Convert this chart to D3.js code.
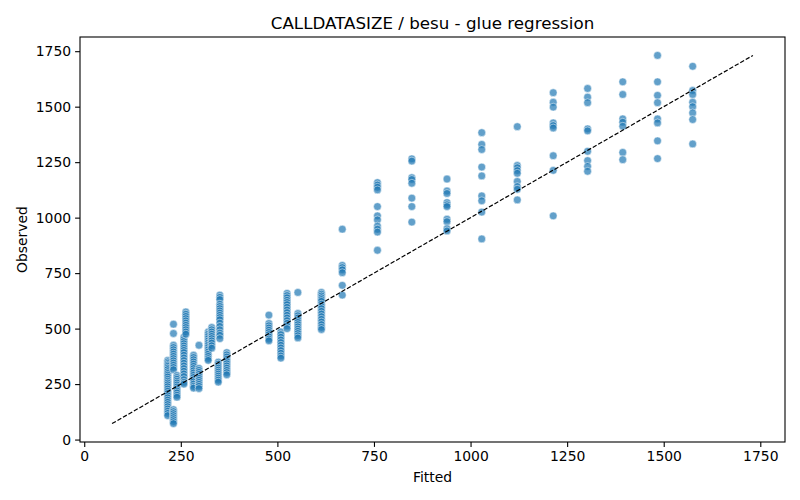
<!DOCTYPE html>
<html>
<head>
<meta charset="utf-8">
<script src="https://cdn.jsdelivr.net/npm/d3@7"></script>
<style>
  body { margin: 0; background: #fff; }
  text { font-family: "DejaVu Sans", sans-serif; }
</style>
</head>
<body>
<div id="chart"></div>
<script>
var fittedLevels = [216, 231, 240, 258, 263, 283, 297, 321, 330, 347, 351, 369,
  478, 509, 525, 553, 614, 668, 759, 848, 939, 1029, 1121, 1214, 1303, 1394, 1484, 1575];

var observedByLevel = [
  [357, 350, 343, 336, 330, 322, 315, 306, 298, 290, 282, 272, 263, 255, 247, 238, 228, 218, 208, 198, 188, 178, 168, 158, 148, 138, 128, 118, 108],
  [520, 478, 425, 415, 405, 395, 385, 375, 365, 355, 345, 335, 325, 315, 135, 126, 117, 108, 99, 90, 81, 72],
  [289, 280, 272, 263, 255, 246, 237, 228, 219, 210, 200, 191],
  [462, 452, 442, 432, 422, 412, 402, 392, 380, 368, 356, 344, 332, 320, 308, 296, 284, 270, 258, 250],
  [575, 565, 555, 545, 535, 525, 515, 505, 495, 485, 475],
  [380, 370, 360, 350, 340, 330, 320, 310, 300, 290, 280, 270, 260, 250, 240, 232],
  [425, 321, 312, 303, 294, 285, 276, 267, 258, 249, 240, 230],
  [485, 475, 465, 455, 445, 435, 425, 415, 405, 395, 385, 375, 365, 357],
  [505, 495, 485, 475, 465, 455, 445, 435, 423, 412],
  [349, 340, 331, 322, 313, 304, 295, 286, 277, 268, 259],
  [651, 641, 631, 610, 600, 590, 580, 570, 560, 550, 540, 525, 510, 495, 480, 470, 455],
  [392, 382, 372, 362, 352, 342, 332, 322, 312, 302, 292],
  [561, 523, 513, 503, 493, 483, 473, 463, 453, 445],
  [485, 473, 461, 449, 437, 425, 413, 401, 389, 377, 367],
  [659, 649, 639, 628, 618, 608, 596, 584, 572, 560, 548, 536, 524, 512, 500],
  [663, 568, 558, 548, 538, 528, 518, 508, 498, 488, 478, 468, 458],
  [663, 655, 647, 639, 631, 623, 610, 600, 590, 578, 566, 554, 542, 530, 518, 506, 496],
  [948, 785, 775, 765, 752, 695, 651],
  [1158, 1147, 1137, 1125, 1050, 1008, 990, 962, 948, 935, 853],
  [1265, 1255, 1180, 1172, 1155, 1088, 1050, 980],
  [1174, 1120, 1109, 1068, 1058, 1050, 993, 982, 950, 940],
  [1383, 1330, 1307, 1228, 1188, 1098, 1076, 1025, 904],
  [1410, 1235, 1225, 1212, 1200, 1163, 1140, 1128, 1080],
  [1563, 1520, 1498, 1427, 1415, 1404, 1279, 1213, 1008],
  [1582, 1543, 1518, 1400, 1391, 1299, 1257, 1231, 1209],
  [1612, 1555, 1445, 1430, 1412, 1294, 1261],
  [1731, 1612, 1551, 1518, 1445, 1427, 1346, 1266],
  [1682, 1573, 1555, 1520, 1500, 1472, 1442, 1332]
];

var xTicks = [0, 250, 500, 750, 1000, 1250, 1500, 1750];
var yTicks = [0, 250, 500, 750, 1000, 1250, 1500, 1750];

var width = 800, height = 500;
var margin = { left: 80, right: 785, top: 37, bottom: 442 };

var points = [];
fittedLevels.forEach(function(f, i) {
  observedByLevel[i].forEach(function(o) {
    points.push({ fitted: f, observed: o });
  });
});

// the y = x reference spans the full range of both variables
var lo = Math.min(d3.min(points, function(d) { return d.fitted; }), d3.min(points, function(d) { return d.observed; }));
var hi = Math.max(d3.max(points, function(d) { return d.fitted; }), d3.max(points, function(d) { return d.observed; }));
var pad = (hi - lo) * 0.05;

var x = d3.scaleLinear().domain([lo - pad, hi + pad]).range([margin.left, margin.right]);
var y = d3.scaleLinear().domain([lo - pad, hi + pad]).range([margin.bottom, margin.top]);

var svg = d3.select('#chart').append('svg')
  .attr('width', width)
  .attr('height', height);

svg.append('rect')
  .attr('width', width).attr('height', height)
  .attr('fill', '#fff');

var plot = svg.append('g');

plot.selectAll('circle.pt')
  .data(points)
  .enter()
  .append('circle')
  .attr('class', 'pt')
  .attr('cx', function(d) { return x(d.fitted); })
  .attr('cy', function(d) { return y(d.observed); })
  .attr('r', 3.9)
  .attr('fill', '#1f77b4')
  .attr('fill-opacity', 0.7)
  .attr('stroke', '#fff')
  .attr('stroke-opacity', 0.7)
  .attr('stroke-width', 0.7);

plot.append('line')
  .attr('x1', x(lo)).attr('y1', y(lo))
  .attr('x2', x(hi)).attr('y2', y(hi))
  .attr('stroke', '#000')
  .attr('stroke-width', 1.2)
  .attr('stroke-dasharray', '4.4,1.9');

var xAxis = svg.append('g')
  .attr('transform', 'translate(0,' + margin.bottom + ')')
  .call(d3.axisBottom(x).tickValues(xTicks).tickFormat(d3.format('d')).tickSizeOuter(0).tickSize(4.9).tickPadding(4));

var yAxis = svg.append('g')
  .attr('transform', 'translate(' + margin.left + ',0)')
  .call(d3.axisLeft(y).tickValues(yTicks).tickFormat(d3.format('d')).tickSizeOuter(0).tickSize(4.9).tickPadding(4));

[xAxis, yAxis].forEach(function(a) {
  a.select('.domain').remove();
  a.selectAll('.tick line').attr('stroke', '#000').attr('stroke-width', 1.1);
  a.selectAll('.tick text')
    .attr('fill', '#000')
    .style('font-size', '13.9px')
    .style('font-family', '"DejaVu Sans", sans-serif');
});

svg.append('rect')
  .attr('x', margin.left).attr('y', margin.top)
  .attr('width', margin.right - margin.left).attr('height', margin.bottom - margin.top)
  .attr('fill', 'none')
  .attr('stroke', '#000')
  .attr('stroke-width', 1.1);

svg.append('text')
  .attr('x', (margin.left + margin.right) / 2)
  .attr('y', 29)
  .attr('text-anchor', 'middle')
  .style('font-size', '16.7px')
  .text('CALLDATASIZE / besu - glue regression');

svg.append('text')
  .attr('x', (margin.left + margin.right) / 2)
  .attr('y', 482)
  .attr('text-anchor', 'middle')
  .style('font-size', '13.9px')
  .text('Fitted');

svg.append('text')
  .attr('transform', 'translate(27,' + ((margin.top + margin.bottom) / 2) + ') rotate(-90)')
  .attr('text-anchor', 'middle')
  .style('font-size', '13.9px')
  .text('Observed');
</script>
</body>
</html>
